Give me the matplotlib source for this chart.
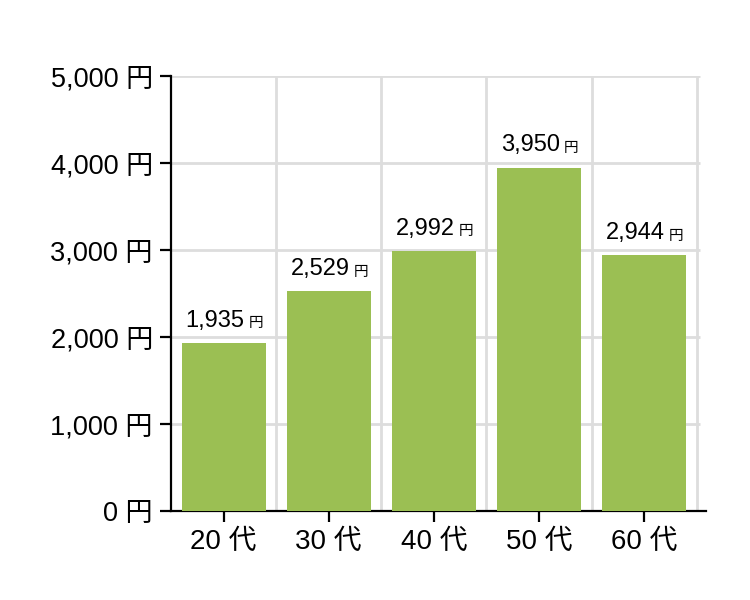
import matplotlib

matplotlib.use("Agg")
import matplotlib.pyplot as plt

plt.rcParams["font.family"] = ["Liberation Sans", "Noto Sans CJK JP", "DejaVu Sans"]

categories = ["20 代", "30 代", "40 代", "50 代", "60 代"]
values = [1935, 2529, 2992, 3950, 2944]
yticks = [0, 1000, 2000, 3000, 4000, 5000]
ytick_labels = ["0 円", "1,000 円", "2,000 円", "3,000 円", "4,000 円", "5,000 円"]

BAR_COLOR = "#9bbf53"
GRID_COLOR = "#dddddd"

fig = plt.figure(figsize=(7.5, 6), dpi=100)
ax = fig.add_axes([0.228, 0.148, 0.713, 0.725])

x = list(range(len(categories)))
ax.bar(x, values, width=0.8, color=BAR_COLOR, zorder=3)

ax.set_xlim(-0.5, len(categories) - 0.415)
ax.set_ylim(0, 5000)

# grid: horizontal at ticks, vertical at category boundaries
for yv in yticks[1:]:
    ax.hlines(yv, -0.5, len(categories) - 0.47, color=GRID_COLOR, lw=2, zorder=1)
for i in range(len(categories)):
    ax.axvline(i + 0.5, color=GRID_COLOR, lw=2, zorder=1)

ax.set_xticks(x)
ax.set_xticklabels(categories, fontsize=20)
ax.set_yticks(yticks)
ax.set_yticklabels(ytick_labels, fontsize=19.5)
ax.tick_params(axis="both", length=8, width=1.6, color="black")
ax.tick_params(axis="y", pad=5)
ax.tick_params(axis="x", pad=5)

for side in ["top", "right"]:
    ax.spines[side].set_visible(False)
for side in ["left", "bottom"]:
    ax.spines[side].set_linewidth(1.6)

for xi, v in zip(x, values):
    ax.annotate(f"{v:,}", (xi, v), xytext=(15, 8), textcoords="offset points",
                ha="right", va="bottom", fontsize=17, zorder=4)
    ax.annotate("円", (xi, v), xytext=(18, 9), textcoords="offset points",
                ha="left", va="bottom", fontsize=10.5, zorder=4)

fig.savefig("out.png", dpi=100)
